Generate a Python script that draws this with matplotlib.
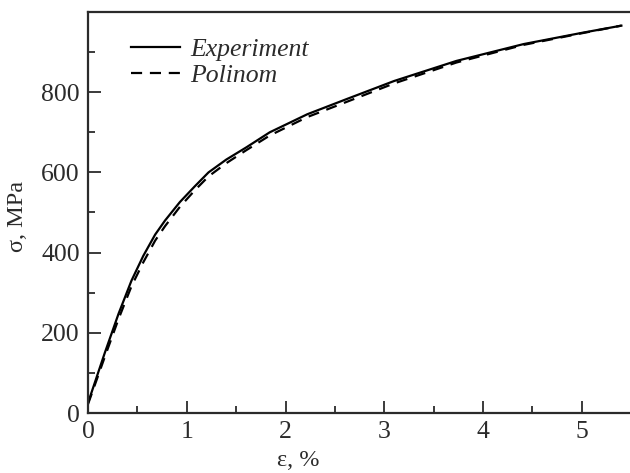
import numpy as np
import matplotlib
matplotlib.use("Agg")
import matplotlib.pyplot as plt
from matplotlib.ticker import MultipleLocator

# strain (%) and stress (MPa)
eps_exp = [0.0, 0.17, 0.31, 0.44, 0.56, 0.68, 0.78, 0.93, 1.08,
           1.22, 1.40, 1.60, 1.84, 2.22, 2.62, 3.10, 3.73, 4.41, 5.00, 5.40]
sig_exp = [25, 150, 248, 330, 392, 445, 480, 526, 565,
           600, 632, 662, 700, 745, 783, 828, 878, 920, 948, 966]

eps_pol = [0.0, 0.17, 0.31, 0.44, 0.56, 0.68, 0.78, 0.93, 1.08,
           1.22, 1.40, 1.60, 1.84, 2.22, 2.62, 3.10, 3.73, 4.41, 5.00, 5.40]
sig_pol = [22, 140, 235, 316, 376, 430, 466, 514, 555,
           590, 623, 655, 692, 738, 776, 822, 874, 918, 947, 966]

plt.rcParams['font.family'] = 'serif'
plt.rcParams['font.serif'] = ['Liberation Serif', 'DejaVu Serif']

fig = plt.figure(figsize=(6.3, 4.73), dpi=100)
ax = fig.add_axes([88 / 630, 60 / 473, 1.0 - 88 / 630 + 0.002, 401 / 473])

ink = '#2b2b2b'
ax.plot(eps_exp, sig_exp, color='black', lw=1.6, label='Experiment')
ax.plot(eps_pol, sig_pol, color='black', lw=1.6, ls=(0, (5, 3.5)), label='Polinom')

ax.set_xlim(0, 5.5)
ax.set_ylim(0, 1000)
ax.xaxis.set_major_locator(MultipleLocator(1))
ax.xaxis.set_minor_locator(MultipleLocator(0.5))
ax.yaxis.set_major_locator(MultipleLocator(200))
ax.yaxis.set_minor_locator(MultipleLocator(100))
ax.set_yticks([0, 200, 400, 600, 800])

ax.tick_params(which='both', direction='in', top=False, right=False,
               color=ink, width=1.3, labelcolor=ink, labelsize=18.5)
ax.tick_params(which='major', length=9, pad=6)
ax.tick_params(which='minor', length=5)
for side in ['left', 'bottom', 'top', 'right']:
    ax.spines[side].set_color(ink)
    ax.spines[side].set_linewidth(1.6)

ax.set_xlabel('ε, %', fontsize=17.5, color=ink)
ax.xaxis.set_label_coords((298 - 88) / 543, -37 / 401)
ax.set_ylabel('σ, MPa', fontsize=17.5, color=ink)
ax.yaxis.set_label_coords(-60 / 543, 0.49)

leg = ax.legend(loc='upper left', bbox_to_anchor=(0.06, 0.96), frameon=False,
                prop={'style': 'italic', 'size': 18.5}, handlelength=1.9,
                handletextpad=0.4, labelspacing=0.12, borderaxespad=0)
for t in leg.get_texts():
    t.set_color(ink)

fig.savefig('out.png', dpi=100)
